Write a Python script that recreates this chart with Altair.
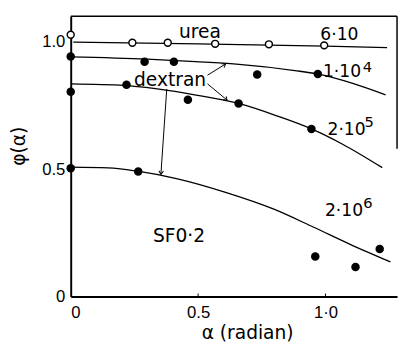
import altair as alt
import pandas as pd

# ---- data ----
urea_px = [0.0, 0.242, 0.381, 0.567, 0.778, 0.995]
urea_py = [1.028, 0.996, 0.996, 0.992, 0.990, 0.986]
urea_cx = [0.01, 0.5, 1.0, 1.242]
urea_cy = [0.999, 0.992, 0.983, 0.977]

d4_px = [0.0, 0.29, 0.405, 0.732, 0.97]
d4_py = [0.942, 0.922, 0.922, 0.872, 0.874]
d4_cx = [0.0, 0.3, 0.49, 0.65, 0.88, 0.967, 1.11, 1.236]
d4_cy = [0.941, 0.932, 0.922, 0.912, 0.887, 0.874, 0.836, 0.792]

d5_px = [0.0, 0.219, 0.46, 0.659, 0.945]
d5_py = [0.804, 0.831, 0.773, 0.758, 0.658]
d5_cx = [0.0, 0.21, 0.34, 0.492, 0.659, 0.813, 0.945, 1.069, 1.223]
d5_cy = [0.835, 0.829, 0.815, 0.791, 0.758, 0.708, 0.658, 0.597, 0.506]

d6_px = [0.0, 0.265, 0.96, 1.118, 1.213]
d6_py = [0.504, 0.491, 0.157, 0.116, 0.187]
d6_cx = [0.0, 0.146, 0.268, 0.415, 0.608, 0.8, 0.954, 1.095, 1.255]
d6_cy = [0.508, 0.505, 0.491, 0.463, 0.409, 0.342, 0.272, 0.206, 0.136]

x_ticks = [0, 0.5, 1.0]
y_ticks = [0, 0.5, 1.0]

labels = ["urea", "dextran", "SF0·2"]
label_x = [0.507, 0.39, 0.425]
label_y = [1.015, 0.827, 0.213]

nums = ["6·10", "1·10", "2·10", "2·10"]
num_x = [0.98, 0.99, 1.008, 0.998]
num_y = [1.009, 0.861, 0.633, 0.316]

sups = ["4", "5", "6"]
sup_x = [1.146, 1.153, 1.148]
sup_y = [0.883, 0.665, 0.348]

arrow_x0 = [0.537, 0.537, 0.377]
arrow_y0 = [0.869, 0.835, 0.815]
arrow_x1 = [0.608, 0.614, 0.354]
arrow_y1 = [0.913, 0.771, 0.480]
arrow_ang = [238, 310, 4]

XMAX, YMAX = 1.281, 1.1

# ---- tables ----
curves = pd.concat([
    pd.DataFrame({"x": urea_cx, "y": urea_cy, "s": "urea"}),
    pd.DataFrame({"x": d4_cx, "y": d4_cy, "s": "1e4"}),
    pd.DataFrame({"x": d5_cx, "y": d5_cy, "s": "2e5"}),
    pd.DataFrame({"x": d6_cx, "y": d6_cy, "s": "2e6"}),
])
filled = pd.concat([
    pd.DataFrame({"x": d4_px, "y": d4_py}),
    pd.DataFrame({"x": d5_px, "y": d5_py}),
    pd.DataFrame({"x": d6_px, "y": d6_py}),
])
openpts = pd.DataFrame({"x": urea_px, "y": urea_py})
lab_df = pd.DataFrame({"x": label_x, "y": label_y, "t": labels})
num_df = pd.DataFrame({"x": num_x, "y": num_y, "t": nums})
sup_df = pd.DataFrame({"x": sup_x, "y": sup_y, "t": sups})
arr_df = pd.DataFrame({"x0": arrow_x0, "y0": arrow_y0, "x1": arrow_x1,
                       "y1": arrow_y1, "a": arrow_ang})
tick_df = pd.DataFrame({"x": [0.5, 1.0], "y0": [0, 0], "y1": [0.012, 0.012]})

xs = alt.Scale(domain=[0, XMAX], nice=False, zero=False)
ys = alt.Scale(domain=[0, YMAX], nice=False, zero=False)

xaxis = alt.Axis(values=x_ticks, ticks=False, grid=False, domainColor="black",
                 domainWidth=2, labelFont="Liberation Sans", labelFontSize=17,
                 labelColor="black", labelPadding=8,
                 labelExpr="datum.value == 1 ? '1·0' : datum.value == 0.5 ? '0.5' : '0'",
                 title="α (radian)", titleFont="DejaVu Sans", titleFontSize=19,
                 titleFontWeight="normal", titleColor="black", titleX=180, titleY=37,
                 titleBaseline="middle", titleAlign="center")
yaxis = alt.Axis(values=y_ticks, ticks=False, grid=False, domainColor="black",
                 domainWidth=2, labelFont="Liberation Sans", labelFontSize=17,
                 labelColor="black", labelPadding=6,
                 labelExpr="datum.value == 1 ? '1.0' : datum.value == 0.5 ? '0.5' : '0'",
                 title="φ(α)", titleFont="DejaVu Sans", titleFontSize=19,
                 titleFontWeight="normal", titleColor="black", titleX=-53, titleY=132,
                 titleAngle=270, titleBaseline="middle", titleAlign="center")

base_line = alt.Chart(curves).mark_line(interpolate="monotone", color="black",
                                        strokeWidth=1.3).encode(
    x=alt.X("x:Q", scale=xs, axis=xaxis),
    y=alt.Y("y:Q", scale=ys, axis=yaxis),
    detail="s:N",
)

fill_pts = alt.Chart(filled).mark_point(shape="circle", filled=True, color="black",
                                        size=75, opacity=1).encode(
    x=alt.X("x:Q", scale=xs), y=alt.Y("y:Q", scale=ys))

open_pts = alt.Chart(openpts).mark_point(shape="circle", filled=True, fill="white",
                                         stroke="black", strokeWidth=1.5, size=50,
                                         opacity=1).encode(
    x=alt.X("x:Q", scale=xs), y=alt.Y("y:Q", scale=ys))

lab = alt.Chart(lab_df).mark_text(font="DejaVu Sans", fontSize=19, color="black",
                                  align="center", baseline="alphabetic").encode(
    x=alt.X("x:Q", scale=xs), y=alt.Y("y:Q", scale=ys), text="t:N")

num = alt.Chart(num_df).mark_text(font="DejaVu Sans", fontSize=17.5, color="black",
                                  align="left", baseline="alphabetic").encode(
    x=alt.X("x:Q", scale=xs), y=alt.Y("y:Q", scale=ys), text="t:N")

sup = alt.Chart(sup_df).mark_text(font="DejaVu Sans", fontSize=15, color="black",
                                  align="left", baseline="alphabetic").encode(
    x=alt.X("x:Q", scale=xs), y=alt.Y("y:Q", scale=ys), text="t:N")

arr_line = alt.Chart(arr_df).mark_rule(color="black", strokeWidth=1).encode(
    x=alt.X("x0:Q", scale=xs), y=alt.Y("y0:Q", scale=ys), x2="x1:Q", y2="y1:Q")

arr_head = alt.Chart(arr_df).mark_point(shape="M-0.7,-1L0,0L0.7,-1", filled=False,
                                        color="black", strokeWidth=1, size=45,
                                        opacity=1).encode(
    x=alt.X("x1:Q", scale=xs), y=alt.Y("y1:Q", scale=ys),
    angle=alt.Angle("a:Q", scale=None))

ticks = alt.Chart(tick_df).mark_rule(color="black", strokeWidth=1).encode(
    x=alt.X("x:Q", scale=xs), y=alt.Y("y0:Q", scale=ys), y2="y1:Q")

top_border = alt.Chart(pd.DataFrame({"a": [0]})).mark_rule(color="black",
                                                           strokeWidth=1.5).encode(
    x=alt.datum(0, scale=xs), x2=alt.datum(XMAX), y=alt.datum(YMAX, scale=ys))
right_border = alt.Chart(pd.DataFrame({"a": [0]})).mark_rule(color="black",
                                                             strokeWidth=1.5).encode(
    x=alt.datum(XMAX, scale=xs), y=alt.datum(YMAX, scale=ys), y2=alt.datum(0.58))

chart = alt.layer(base_line, top_border, right_border, ticks, arr_line, arr_head,
                  open_pts, fill_pts, lab, num, sup).properties(
    width=333, height=286,
    autosize=alt.AutoSizeParams(type="none"),
    padding={"left": 64, "top": 5, "right": 2, "bottom": 50},
    background="white",
).configure_view(stroke=None)

chart.save("out.html", embed_options={"renderer": "svg", "actions": False})
